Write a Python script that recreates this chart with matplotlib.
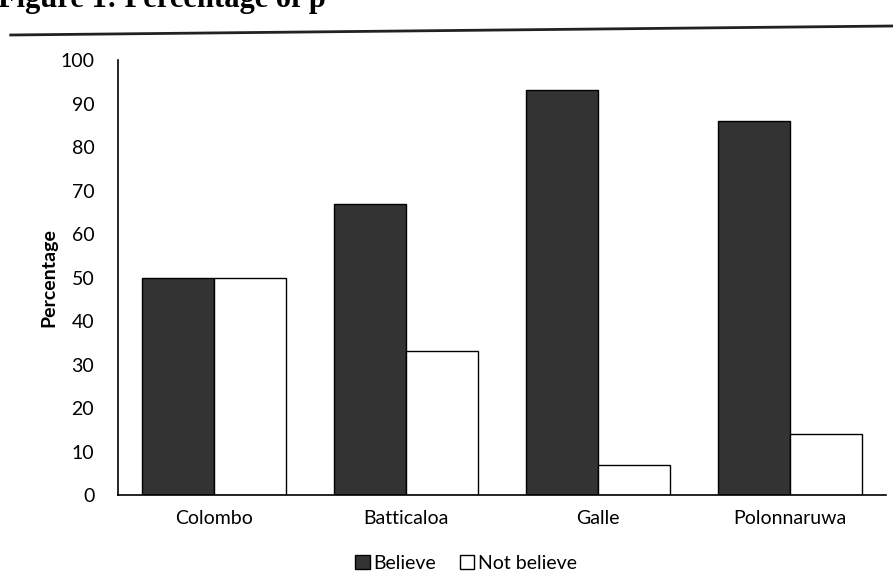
import matplotlib
matplotlib.use("Agg")
from matplotlib import pyplot as plt
from matplotlib.lines import Line2D
import numpy as np

# data
districts = ["Colombo", "Batticaloa", "Galle", "Polonnaruwa"]
believe = [50, 67, 93, 86]
not_believe = [50, 33, 7, 14]
series_names = ["Believe", "Not believe"]
yticks = list(range(0, 101, 10))

plt.rcParams["font.family"] = ["Lato", "DejaVu Sans"]

fig = plt.figure(figsize=(8.93, 5.77), dpi=100)
fig.set_facecolor("white")
ax = fig.add_axes([0.132, 0.142, 0.860, 0.754])

x = np.arange(len(districts))
w = 0.375
ax.bar(x - w / 2, believe, w, color="#333333", edgecolor="black",
       linewidth=1, label=series_names[0])
ax.bar(x + w / 2, not_believe, w, color="white", edgecolor="black",
       linewidth=1, label=series_names[1])

ax.set_xlim(-0.5, len(districts) - 0.5)
ax.set_ylim(0, 100)
ax.set_yticks(yticks)
ax.set_xticks(x)
ax.set_xticklabels(districts, fontsize=14)
ax.tick_params(axis="y", length=0, pad=17, labelsize=14)
ax.tick_params(axis="x", length=0, pad=11)
for s in ("top", "right"):
    ax.spines[s].set_visible(False)
ax.spines["left"].set_linewidth(1.2)
ax.spines["bottom"].set_linewidth(1.2)
ax.set_ylabel("Percentage", fontsize=14, fontweight="bold", labelpad=2)

fig.legend(loc="center", bbox_to_anchor=(0.522, 0.024), ncol=2,
           frameon=False, fontsize=14, handlelength=0.75, handleheight=0.75,
           handletextpad=0.2, columnspacing=1.2)

# heading of the page, cut off by the crop as in the scan
fig.text(-0.002, 1 - 7 / 577, "Figure 1: Percentage of p", fontsize=22,
         fontweight="bold", family="Liberation Serif", va="baseline")
fig.add_artist(Line2D([0.012, 1.0], [1 - 35 / 577, 1 - 26 / 577],
                      transform=fig.transFigure, color="#222222", lw=2))

fig.savefig("out.png", dpi=100)
